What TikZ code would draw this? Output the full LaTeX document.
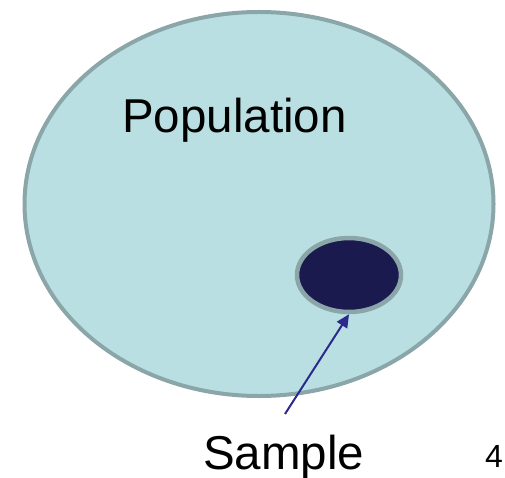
\documentclass[tikz,border=0pt]{standalone}
\usepackage{fontspec}
\setmainfont{Liberation Sans}
\usetikzlibrary{shapes.geometric,arrows.meta}
\definecolor{popfill}{HTML}{B9DFE2}
\definecolor{popline}{HTML}{8AA6A8}
\definecolor{sampfill}{HTML}{1B1A4F}
\definecolor{arrowcol}{HTML}{2B2A8C}
\tikzset{
  popshape/.style={ellipse, draw=popline, fill=popfill, line width=4pt, inner sep=0pt, outer sep=0pt},
  sampshape/.style={ellipse, draw=popline, fill=sampfill, line width=4.5pt, inner sep=0pt},
  lbl/.style={anchor=base west, inner sep=0pt, font=\fontsize{47.5}{50}\selectfont, text=black},
  pagenum/.style={anchor=base west, inner sep=0pt, font=\fontsize{32}{34}\selectfont, text=black},
  pointer/.style={draw=arrowcol, line width=2pt, -{Triangle[length=13pt,width=12pt]}}
}
\begin{document}
\begin{tikzpicture}[x=1pt,y=-1pt]
\useasboundingbox (0,0) rectangle (505,478);
\clip (0,0) rectangle (505,478);
\node[popshape, minimum width=469pt, minimum height=384pt] (pop) at (259,204) {};
\node[sampshape, minimum width=104pt, minimum height=74pt] (smp) at (349,275) {};
\node[lbl] (poplbl) at (122,133) {Population};
\node[lbl] (smplbl) at (203,469) {Sample};
\node[pagenum] (num) at (485,467) {4};
\coordinate (tail) at (285,414);
\draw[pointer] (tail) -- (smp.south);
\end{tikzpicture}
\end{document}
